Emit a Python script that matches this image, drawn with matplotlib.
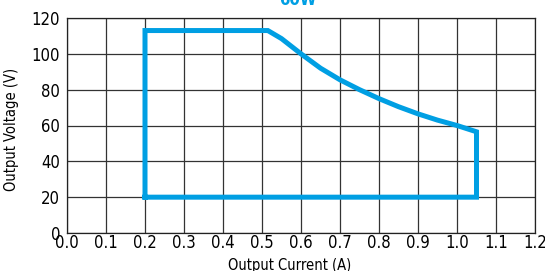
import matplotlib.pyplot as plt

# derating curve (60W)
current = [0.2, 0.2, 0.515, 0.55, 0.6, 0.65, 0.7, 0.75, 0.8, 0.85, 0.9, 0.95, 1.0, 1.05, 1.05, 0.2]
voltage = [20, 113, 113, 108.5, 100, 92, 85.5, 80, 75, 70.5, 66.5, 63, 60, 56.5, 20, 20]

x_ticks = [0.0, 0.1, 0.2, 0.3, 0.4, 0.5, 0.6, 0.7, 0.8, 0.9, 1.0, 1.1, 1.2]
y_ticks = [0, 20, 40, 60, 80, 100, 120]

plt.rcParams['font.family'] = ['DejaVu Sans']
plt.rcParams['font.stretch'] = 'condensed'

fig = plt.figure(figsize=(5.45, 2.71), dpi=100)
ax = fig.add_axes([67 / 545, 1 - 233 / 271, (535 - 67) / 545, (233 - 18) / 271])

ax.plot(current, voltage, color='#009fe3', linewidth=3.6, solid_joinstyle='miter', zorder=3)

ax.set_xlim(0, 1.2)
ax.set_ylim(0, 120)
ax.set_xticks(x_ticks)
ax.set_yticks(y_ticks)
ax.set_xticklabels([f"{t:.1f}" for t in x_ticks])
ax.tick_params(length=0, labelsize=12)
ax.tick_params(axis='x', pad=1)
ax.tick_params(axis='y', pad=5)
ax.grid(True, color='#333333', linewidth=0.9)
for s in ax.spines.values():
    s.set_color('#222222')
    s.set_linewidth(0.9)

ax.set_xlabel("Output Current (A)", fontsize=10.5, labelpad=2)
ax.xaxis.set_label_coords(0.475, -0.115)
ax.set_ylabel("Output Voltage (V)", fontsize=10.5)
ax.yaxis.set_label_coords(-0.103, 0.48)
fig.text(0.547, 1.0, "60W", color='#009fe3', fontsize=12, fontweight='bold',
         ha='center', va='center')

fig.savefig("out.png", dpi=100)
